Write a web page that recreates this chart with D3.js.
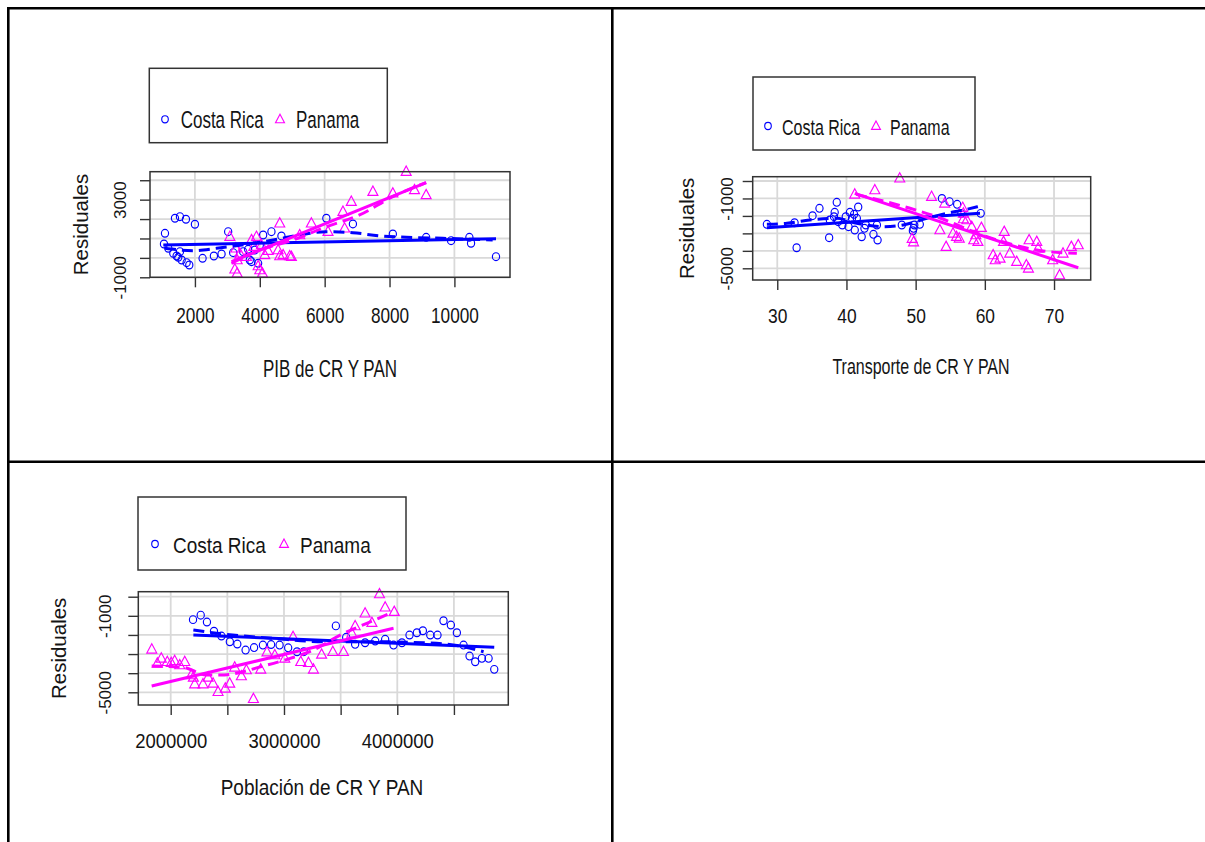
<!DOCTYPE html>
<html><head><meta charset="utf-8">
<script src="https://cdn.jsdelivr.net/npm/d3@7"></script>
<style>
body{margin:0;background:#fff}
svg{display:block}
text{font-family:"Liberation Sans",Arial,Helvetica,sans-serif;fill:#141414}
</style>
</head><body>
<svg id="chart" width="1205" height="842"></svg>
<script>
// ---------------- DATA ----------------
const groupNames = ["Costa Rica", "Panama"];
const yTitle = "Residuales";

// Panel 1: PIB
const pibCR = [[1077,1268],[1046,716],[1385,2041],[1538,2124],[1723,1990],[2000,1732],[1179,495],[1333,237],[1436,98],[1538,320],[1590,-108],[1744,-247],[1826,-366],[1487,31],[2236,-21],[2585,98],[2821,201],[3025,1351],[3179,268],[3487,320],[3641,443],[3744,-196],[3949,-278],[4103,1180],[4359,1351],[4667,1129],[6052,2041],[6871,1747],[8102,1232],[9129,1062],[9898,887],[10462,1062],[10513,753],[11282,62],[4000,665],[3846,407],[3692,-108]];
const pibPAN = [[3077,1093],[3262,495],[3303,-108],[3231,-588],[3303,-794],[3385,237],[3590,62],[3744,923],[3815,577],[3897,1093],[3949,-418],[4000,-624],[4082,-794],[4051,665],[4154,150],[4256,371],[4615,1784],[4564,407],[4615,98],[4718,150],[4974,62],[4923,98],[5231,1180],[5590,1784],[6103,1351],[6564,2381],[6615,1526],[6821,2897],[7487,3412],[8102,3330],[8513,4443],[8769,3500],[9128,3242]];
const pibCRFit = [[1025,665],[11283,990]];
const pibCRSmooth = [[1077,495],[1949,371],[2667,495],[4410,923],[5231,1180],[6052,1351],[6871,1299],[7692,1129],[8514,1062],[9640,1010],[11179,923]];
const pibPANFit = [[3129,-196],[9129,3876]];
const pibPANSmooth = [[3129,-278],[4000,407],[5025,923],[6052,1608],[7077,2211],[8102,3155],[9129,3876]];
const pibXTicks = [2000,4000,6000,8000,10000];
const pibXLabels = [2000,4000,6000,8000,10000];
const pibYTicks = [-1000,0,1000,2000,3000,4000];
const pibYLabels = [-1000,3000];

// Panel 2: Transporte
const trCR = [[28.5,-2481],[32.5,-2390],[32.8,-3822],[35.1,-1988],[36.1,-1566],[37.5,-3249],[37.6,-2235],[38.3,-1794],[38.2,-2046],[38.6,-1222],[38.8,-2332],[39.4,-2521],[39.9,-2046],[40.3,-2619],[40.5,-1794],[40.8,-2139],[41.1,-1910],[41.2,-2808],[41.5,-2139],[41.7,-1490],[42.2,-3192],[42.6,-2711],[42.8,-2521],[43.9,-3055],[44.5,-3381],[44.4,-2521],[48.0,-2521],[49.7,-2711],[49.8,-2521],[49.6,-2850],[50.6,-2483],[53.8,-1000],[54.9,-1185],[56.0,-1337],[56.6,-1853],[59.4,-1853]];
const trPAN = [[41.2,-764],[44.1,-516],[47.7,155],[52.3,-898],[54.2,-1280],[53.5,-2808],[54.4,-3763],[55.4,-2998],[55.9,-3190],[56.3,-3285],[56.8,-1528],[56.9,-1853],[56.9,-2178],[57.4,-2235],[58.1,-2617],[58.4,-3381],[58.7,-3094],[59.0,-3476],[59.5,-2675],[49.5,-3300],[49.7,-3500],[62.8,-2903],[61.2,-4240],[61.5,-4527],[62.2,-4432],[62.7,-3476],[63.6,-4145],[64.6,-4623],[66.0,-4814],[66.3,-5003],[66.4,-3381],[67.5,-3476],[67.7,-3858],[69.8,-4527],[70.8,-5387],[71.3,-4145],[72.5,-3763],[73.5,-3667]];
const trCRFit = [[28.5,-2675],[59.3,-1853]];
const trCRSmooth = [[28.5,-2481],[31.4,-2426],[34.7,-2235],[38.6,-2139],[41.5,-2426],[45.3,-2617],[48.2,-2521],[51.6,-2139],[54.5,-1853],[56.9,-1662],[59.0,-1471]];
const trPANFit = [[41.2,-705],[73.5,-4968]];
const trPANSmooth = [[41.4,-764],[53,-2046],[60.3,-3192],[67.5,-3954],[73.3,-4145]];
const trXTicks = [30,40,50,60,70];
const trXLabels = [30,40,50,60,70];
const trYTicks = [0,-1000,-2000,-3000,-4000,-5000];
const trYLabels = [-1000,-5000];

// Panel 3: Poblacion
const popCR = [[2197000,-1200],[2265000,-966],[2320000,-1325],[2382000,-1806],[2448000,-2058],[2522000,-2356],[2588000,-2476],[2661000,-2791],[2736000,-2660],[2814000,-2529],[2886000,-2502],[2961000,-2529],[3037000,-2675],[3115000,-2880],[3175000,-2877],[3458000,-1526],[3549000,-2126],[3628000,-2492],[3716000,-2408],[3805000,-2319],[3893000,-2230],[3967000,-2529],[4041000,-2408],[4108000,-2005],[4173000,-1885],[4226000,-1780],[4291000,-2005],[4355000,-2005],[4408000,-1257],[4473000,-1482],[4526000,-1885],[4585000,-2529],[4638000,-3105],[4688000,-3403],[4747000,-3225],[4806000,-3225],[4856000,-3801]];
const popPAN = [[1833000,-2754],[1882000,-3487],[1917000,-3225],[1970000,-3403],[2005000,-3455],[2035000,-3351],[2080000,-3576],[2124000,-3403],[2182000,-4099],[2200000,-4222],[2212000,-4571],[2285000,-4571],[2330000,-4222],[2374000,-4536],[2418000,-4974],[2482000,-4796],[2521000,-4536],[2565000,-3696],[2624000,-4152],[2668000,-3838],[2730000,-5340],[2795000,-3801],[2850000,-2900],[2919000,-3052],[3007000,-3225],[3080000,-2094],[3148000,-3403],[3216000,-3455],[3260000,-3801],[3332000,-3020],[3431000,-2880],[3525000,-2880],[3599000,-1916],[3628000,-1534],[3716000,-869],[3776000,-1361],[3843000,141],[3893000,-555],[3973000,-785]];
const popCRFit = [[2200000,-2005],[4856000,-2649]];
const popCRSmooth = [[2200000,-1743],[2465000,-1953],[2906000,-2178],[3348000,-2356],[3790000,-2356],[4232000,-2408],[4585000,-2618],[4762000,-2880]];
const popPANFit = [[1832000,-4675],[3967000,-1654]];
const popPANSmooth = [[1832000,-3628],[2111000,-3696],[2318000,-4099],[2435000,-4099],[2848000,-3576],[3054000,-3225],[3260000,-2791],[3496000,-2005],[3731000,-1393],[3937000,-869]];
const popXTicks = [2000000,2500000,3000000,3500000,4000000,4500000];
const popXLabels = [2000000,3000000,4000000];
const popYTicks = [0,-1000,-2000,-3000,-4000,-5000];
const popYLabels = [-1000,-5000];

// ---------------- LAYOUT ----------------
const panels = [
  {cr:pibCR, pan:pibPAN, crFit:pibCRFit, crSm:pibCRSmooth, panFit:pibPANFit, panSm:pibPANSmooth,
   xTicks:pibXTicks, xLabels:pibXLabels, yTicks:pibYTicks, yLabels:pibYLabels, title:"PIB de CR Y PAN",
   xDom:[615,11714], yDom:[-1000,4440], box:[150,171.7,510,277.3],
   fs:17, tfs:17.2, vs:1.42, tvs:1.25, xLabBase:323, yLabOff:24, titleX:330, titleY:377, resX:88,
   leg:[149.3,68.3,387.3,142.7], legY:119.3, legBase:127.7, c1:165, t1:180.7, c2:280, t2:296},
  {cr:trCR, pan:trPAN, crFit:trCRFit, crSm:trCRSmooth, panFit:trPANFit, panSm:trPANSmooth,
   xTicks:trXTicks, xLabels:trXLabels, yTicks:trYTicks, yLabels:trYLabels, title:"Transporte de CR Y PAN",
   xDom:[26.45,75.3], yDom:[-5670,246], box:[752.7,176.7,1090.7,280],
   fs:16, tfs:17.4, vs:1.4, tvs:1.18, xLabBase:323, yLabOff:20, titleX:921, titleY:374, resX:694,
   leg:[753,77,975,150], legY:126, legBase:134.5, c1:768, t1:782, c2:876, t2:890},
  {cr:popCR, pan:popPAN, crFit:popCRFit, crSm:popCRSmooth, panFit:popPANFit, panSm:popPANSmooth,
   xTicks:popXTicks, xLabels:popXLabels, yTicks:popYTicks, yLabels:popYLabels, title:"Población de CR Y PAN",
   xDom:[1714000,4980000], yDom:[-5665,262], box:[138.3,591.7,508.3,705],
   fs:19, tfs:18.5, vs:1.2, tvs:1.1, xLabBase:748, yLabOff:27, titleX:322, titleY:795, resX:66,
   leg:[138,497,406,570], legY:544, legBase:552.5, c1:155, t1:173, c2:284, t2:300}
];

const BLUE = "#0000ff", MAG = "#ff00ff";
const svg = d3.select("#chart");

// outer frame of the 2x2 layout
const frame = svg.append("g").attr("stroke","#000").attr("stroke-width",2.6);
frame.append("line").attr("x1",7).attr("x2",1205).attr("y1",8.3).attr("y2",8.3);
frame.append("line").attr("x1",8.3).attr("x2",8.3).attr("y1",7).attr("y2",842);
frame.append("line").attr("x1",612.3).attr("x2",612.3).attr("y1",7).attr("y2",842);
frame.append("line").attr("x1",7).attr("x2",1205).attr("y1",461.7).attr("y2",461.7);

function htext(g, x, y, str, fs, vs, anchor){
  return g.append("text").attr("transform",`translate(${x},${y}) scale(1,${vs})`)
    .attr("text-anchor",anchor||"start").style("font-size",fs+"px").text(str);
}
const triPath = (w,h) => `M0,${-h*0.6}L${w/2},${h*0.4}L${-w/2},${h*0.4}Z`;

panels.forEach(p => {
  const [x0,y0,x1,y1] = p.box;
  const x = d3.scaleLinear().domain(p.xDom).range([x0,x1]);
  const y = d3.scaleLinear().domain(p.yDom).range([y1,y0]);
  const g = svg.append("g");

  // grid
  const grid = g.append("g").attr("stroke","#d9d9d9").attr("stroke-width",1.8);
  p.xTicks.forEach(v => grid.append("line").attr("x1",x(v)).attr("x2",x(v)).attr("y1",y0).attr("y2",y1));
  p.yTicks.forEach(v => grid.append("line").attr("y1",y(v)).attr("y2",y(v)).attr("x1",x0).attr("x2",x1));

  // points
  g.append("g").selectAll("ellipse").data(p.cr).join("ellipse")
    .attr("cx",d=>x(d[0])).attr("cy",d=>y(d[1])).attr("rx",3.6).attr("ry",3.9)
    .attr("fill","none").attr("stroke",BLUE).attr("stroke-width",1.15);
  g.append("g").selectAll("path").data(p.pan).join("path")
    .attr("transform",d=>`translate(${x(d[0])},${y(d[1])})`).attr("d",triPath(10,9.3))
    .attr("fill","none").attr("stroke",MAG).attr("stroke-width",1.15);

  // lines
  const line = d3.line().x(d=>x(d[0])).y(d=>y(d[1])).curve(d3.curveMonotoneX);
  const drawL = (data,col,dash) => g.append("path").datum(data).attr("d",line)
    .attr("fill","none").attr("stroke",col).attr("stroke-width",3)
    .attr("stroke-dasharray",dash?"11,6":null);
  drawL(p.crFit,BLUE,false); drawL(p.crSm,BLUE,true);
  drawL(p.panFit,MAG,false); drawL(p.panSm,MAG,true);

  // axes
  const xa = g.append("g").attr("transform",`translate(0,${y1})`)
    .call(d3.axisBottom(x).tickValues(p.xTicks).tickSize(10).tickSizeOuter(0)
      .tickFormat(d => p.xLabels.includes(d) ? String(d) : ""));
  xa.select(".domain").remove();
  xa.selectAll("line").attr("stroke","#333").attr("stroke-width",1.4);
  xa.selectAll("text").attr("y",0).attr("dy",null).attr("fill","#141414")
    .attr("transform",`translate(0,${p.xLabBase-y1}) scale(1,${p.tvs})`)
    .style("font-size",p.tfs+"px").style("font-family",'"Liberation Sans",Arial,sans-serif');

  const ya = g.append("g").attr("transform",`translate(${x0},0)`)
    .call(d3.axisLeft(y).tickValues(p.yTicks).tickSize(10).tickSizeOuter(0)
      .tickFormat(d => p.yLabels.includes(d) ? String(d) : ""));
  ya.select(".domain").remove();
  ya.selectAll("line").attr("stroke","#333").attr("stroke-width",1.4);
  ya.selectAll("text").attr("x",0).attr("dy",null).attr("fill","#141414")
    .attr("text-anchor","middle")
    .attr("transform",`translate(${-p.yLabOff},0) rotate(-90)`)
    .style("font-size","17px").style("font-family",'"Liberation Sans",Arial,sans-serif');

  // box
  g.append("rect").attr("x",x0).attr("y",y0).attr("width",x1-x0).attr("height",y1-y0)
    .attr("fill","none").attr("stroke","#333").attr("stroke-width",1.5);

  // titles
  htext(g, p.titleX, p.titleY, p.title, p.fs, p.vs, "middle");
  g.append("text").attr("transform",`translate(${p.resX},${(y0+y1)/2}) rotate(-90)`)
    .attr("text-anchor","middle").style("font-size","20.5px").text(yTitle);

  // legend
  const [lx0,ly0,lx1,ly1] = p.leg;
  g.append("rect").attr("x",lx0).attr("y",ly0).attr("width",lx1-lx0).attr("height",ly1-ly0)
    .attr("fill","#fff").attr("stroke","#333").attr("stroke-width",1.5);
  g.append("ellipse").attr("cx",p.c1).attr("cy",p.legY).attr("rx",3.3).attr("ry",3.6)
    .attr("fill","none").attr("stroke",BLUE).attr("stroke-width",1.1);
  htext(g, p.t1, p.legBase, groupNames[0], p.fs, p.vs, "start");
  g.append("path").attr("transform",`translate(${p.c2},${p.legY})`).attr("d",triPath(9,8.5))
    .attr("fill","none").attr("stroke",MAG).attr("stroke-width",1.1);
  htext(g, p.t2, p.legBase, groupNames[1], p.fs, p.vs, "start");
});
</script>
</body></html>
